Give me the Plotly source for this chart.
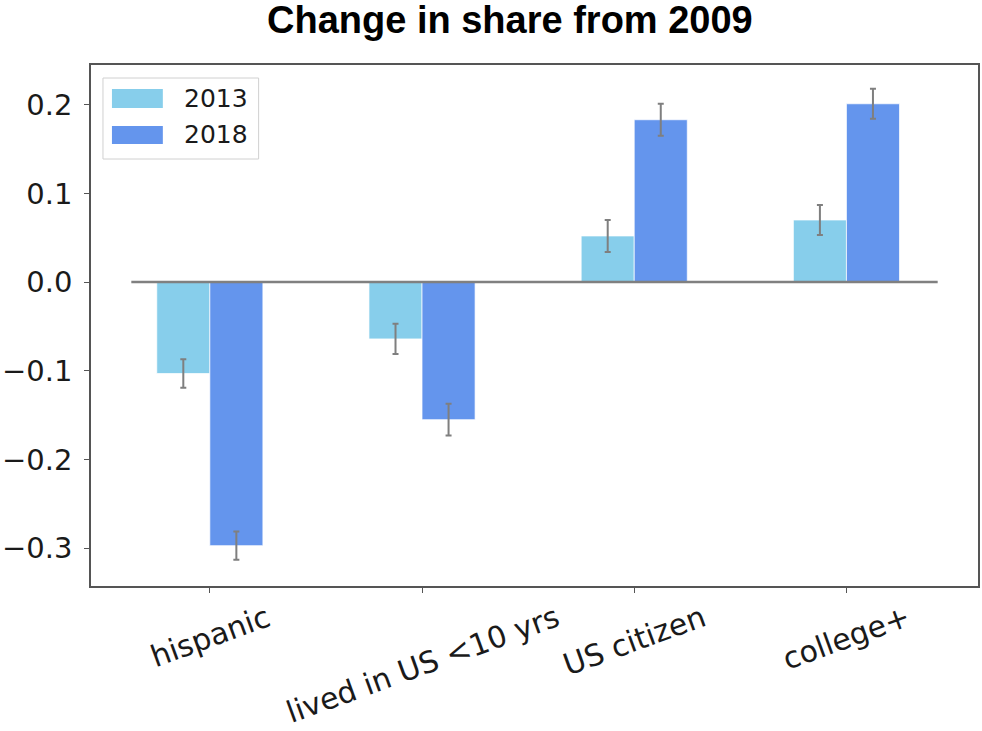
import plotly.graph_objects as go

categories = ["hispanic", "lived in US <10 yrs", "US citizen", "college+"]
series_names = ["2013", "2018"]
values_2013 = [-0.103, -0.064, 0.052, 0.070]
values_2018 = [-0.297, -0.155, 0.183, 0.201]
errors_2013 = [0.016, 0.017, 0.018, 0.017]
errors_2018 = [0.016, 0.018, 0.018, 0.017]
y_ticks = [-0.3, -0.2, -0.1, 0.0, 0.1, 0.2]
title_text = "Change in share from 2009"

colors = ["#87CEEB", "#6495ED"]
err_color = "#7f7f7f"
ytick_font = dict(family="DejaVu Sans", size=29, color="#1a1a1a")
xtick_font = dict(family="DejaVu Sans", size=30, color="#1a1a1a")

x = list(range(len(categories)))
fig = go.Figure()
for name, vals, errs, col in zip(series_names, [values_2013, values_2018],
                                 [errors_2013, errors_2018], colors):
    fig.add_trace(go.Bar(
        x=x, y=vals, name=name, marker_color=col,
        marker_line=dict(color="rgba(255,255,255,0.7)", width=1),
        error_y=dict(type="data", array=errs, visible=True,
                     color=err_color, thickness=2, width=3),
        showlegend=False,
    ))

W, H = 982, 731
ml, mr, mt, mb = 91, 2, 65, 145
pw, ph = W - ml - mr, H - mt - mb


def px(xp):
    return (xp - ml) / pw


def py(yp):
    return (H - mb - yp) / ph


shapes = [
    dict(type="line", xref="x", yref="y", x0=-0.37, x1=3.43, y0=0, y1=0,
         line=dict(color="#808080", width=2.5), layer="above"),
    # legend box
    dict(type="rect", xref="paper", yref="paper", x0=px(103), x1=px(259),
         y0=py(159), y1=py(78), line=dict(color="#d0d0d0", width=1),
         fillcolor="rgba(255,255,255,0.85)", layer="above"),
]
annotations = []
legend_rows = [(89, 108, 98.5), (126, 144, 135)]
for (name, col, (t, b, c)) in zip(series_names, colors, legend_rows):
    shapes.append(dict(type="rect", xref="paper", yref="paper",
                       x0=px(112), x1=px(163), y0=py(b), y1=py(t),
                       fillcolor=col, line=dict(width=0), layer="above"))
    annotations.append(dict(xref="paper", yref="paper", x=px(182), y=py(c),
                            text=name, showarrow=False, xanchor="left",
                            yanchor="middle",
                            font=dict(family="DejaVu Sans", size=25,
                                      color="#1a1a1a")))

for i, cat in enumerate(categories):
    annotations.append(dict(xref="x", yref="paper", x=i, y=py(596),
                            text=cat, showarrow=False, textangle=-20,
                            xanchor="center", yanchor="top", font=xtick_font))

annotations.append(dict(xref="paper", yref="paper", x=px(511), y=py(20),
                        text="<b>" + title_text + "</b>", showarrow=False,
                        xanchor="center", yanchor="middle",
                        font=dict(family="Liberation Sans", size=38,
                                  color="black")))

axis_common = dict(showline=True, mirror=True, linecolor="#555", linewidth=1.5,
                   ticks="outside", ticklen=5, tickcolor="#555", tickwidth=1.2,
                   showgrid=False, zeroline=False)

fig.update_layout(
    width=W, height=H,
    margin=dict(l=ml, r=mr, t=mt, b=mb),
    paper_bgcolor="white", plot_bgcolor="white",
    barmode="group", bargap=0.5, bargroupgap=0,
    xaxis=dict(range=[-0.56, 3.62], tickvals=x, showticklabels=False,
               **axis_common),
    yaxis=dict(range=[-0.3425, 0.2447], tickvals=y_ticks, tickformat=".1f",
               tickfont=ytick_font, ticklabelstandoff=6, **axis_common),
    shapes=shapes, annotations=annotations,
)

fig.write_html("out.html")
